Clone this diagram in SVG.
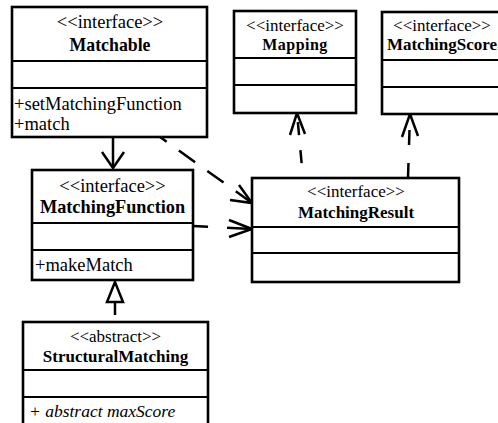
<svg xmlns="http://www.w3.org/2000/svg" width="498" height="423" viewBox="0 0 498 423">
<style>
.box{fill:#fff;stroke:#000;stroke-width:2.6}
.div{stroke:#000;stroke-width:2.2}
.st{font-family:"Liberation Serif","Times New Roman",serif;font-size:17px;text-anchor:middle;fill:#000}
.nm{font-family:"Liberation Serif","Times New Roman",serif;font-size:17px;font-weight:bold;text-anchor:middle;fill:#000}
.mb{font-family:"Liberation Serif","Times New Roman",serif;font-size:18.5px;fill:#000}
.it{font-style:italic;font-size:17.5px}
.big{font-size:18.5px}
.bign{font-size:17.8px}
.ln{fill:none;stroke:#000;stroke-width:2.5}
.dash{stroke-dasharray:20 15}
.head{fill:none;stroke:#000;stroke-width:2.5;stroke-linejoin:miter}
.tri{fill:#fff;stroke:#000;stroke-width:2.5}
</style>
<rect width="498" height="423" fill="#fff"/>

<g id="connectors">
  <!-- Matchable -> MatchingFunction -->
  <path class="ln" d="M113,137 L113,167"/>
  <polyline class="head" points="102,152 113,168 124,152"/>
  <!-- Matchable -> MatchingResult -->
  <path class="ln dash" d="M252,203 L160,137"/>
  <polyline class="head" points="230,200 252,203 239,185"/>
  <!-- MatchingFunction -> MatchingResult -->
  <path class="ln" style="stroke-dasharray:25 19 15" d="M252,229 L193,226"/>
  <polyline class="head" points="229,220 252,229 229,237"/>
  <!-- MatchingResult -> Mapping -->
  <path class="ln" style="stroke-dasharray:13 15;stroke-dashoffset:13" d="M303,178 L297,113"/>
  <polyline class="head" points="290,135 297,113 305,134"/>
  <!-- MatchingResult -> MatchingScore -->
  <path class="ln" style="stroke-dasharray:15 18" d="M408,178 L410,114"/>
  <polyline class="head" points="402,137 410,114 418,136"/>
  <!-- StructuralMatching -> MatchingFunction (generalization) -->
  <path class="ln" d="M115,302 L115,315"/>
  <polygon class="tri" points="115,282 107,302 123,302"/>
</g>

<g id="Matchable">
  <rect class="box" x="12" y="7" width="195" height="130"/>
  <line class="div" x1="12" y1="61" x2="207" y2="61"/>
  <line class="div" x1="12" y1="88" x2="207" y2="88"/>
  <text class="st big" x="110" y="28">&lt;&lt;interface&gt;&gt;</text>
  <text class="nm bign" x="110" y="51">Matchable</text>
  <text class="mb" x="14" y="110">+setMatchingFunction</text>
  <text class="mb" x="14" y="130">+match</text>
</g>

<g id="Mapping">
  <rect class="box" x="234" y="11" width="122" height="102"/>
  <line class="div" x1="234" y1="58" x2="356" y2="58"/>
  <line class="div" x1="234" y1="85" x2="356" y2="85"/>
  <text class="st" x="295" y="31">&lt;&lt;interface&gt;&gt;</text>
  <text class="nm" x="295" y="50" style="font-size:16px;letter-spacing:0.5px">Mapping</text>
</g>

<g id="MatchingScore">
  <rect class="box" x="382" y="12" width="120" height="102"/>
  <line class="div" x1="382" y1="60" x2="502" y2="60"/>
  <line class="div" x1="382" y1="87" x2="502" y2="87"/>
  <text class="st" x="442" y="31">&lt;&lt;interface&gt;&gt;</text>
  <text class="nm" x="442" y="50">MatchingScore</text>
</g>

<g id="MatchingFunction">
  <rect class="box" x="32" y="170" width="161" height="110"/>
  <line class="div" x1="32" y1="223" x2="193" y2="223"/>
  <line class="div" x1="32" y1="250" x2="193" y2="250"/>
  <text class="st big" x="112.5" y="192">&lt;&lt;interface&gt;&gt;</text>
  <text class="nm" x="112.5" y="213" style="font-size:18.3px">MatchingFunction</text>
  <text class="mb" x="35" y="271">+makeMatch</text>
</g>

<g id="MatchingResult">
  <rect class="box" x="252" y="178" width="207" height="104"/>
  <line class="div" x1="252" y1="227" x2="459" y2="227"/>
  <line class="div" x1="252" y1="253" x2="459" y2="253"/>
  <text class="st" x="356" y="197">&lt;&lt;interface&gt;&gt;</text>
  <text class="nm" x="356" y="218">MatchingResult</text>
</g>

<g id="StructuralMatching">
  <rect class="box" x="23" y="322" width="185" height="110"/>
  <line class="div" x1="23" y1="370" x2="208" y2="370"/>
  <line class="div" x1="23" y1="397" x2="208" y2="397"/>
  <text class="st" x="115.5" y="342">&lt;&lt;abstract&gt;&gt;</text>
  <text class="nm" x="115.5" y="362">StructuralMatching</text>
  <text class="mb it" x="29" y="417">+ abstract maxScore</text>
</g>
</svg>
